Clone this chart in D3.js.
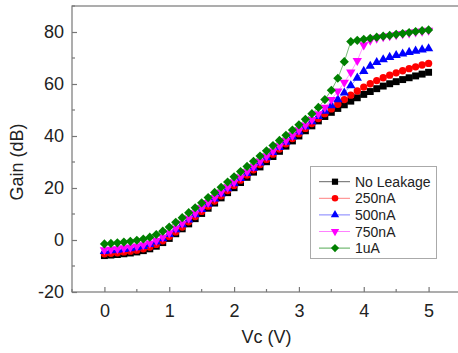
<!DOCTYPE html>
<html>
<head>
<meta charset="utf-8">
<script src="https://cdn.jsdelivr.net/npm/d3@7"></script>
<style>
  body { margin: 0; background: #fff; }
  svg { display: block; font-family: Arial, "Liberation Sans", sans-serif; }
</style>
</head>
<body>
<div id="chart"></div>
<script>
// Vc sweep (V)
const vc = [0.0, 0.1, 0.2, 0.3, 0.4, 0.5, 0.6, 0.7, 0.8, 0.9,
  1.0, 1.1, 1.2, 1.3, 1.4, 1.5, 1.6, 1.7, 1.8, 1.9,
  2.0, 2.1, 2.2, 2.3, 2.4, 2.5, 2.6, 2.7, 2.8, 2.9,
  3.0, 3.1, 3.2, 3.3, 3.4, 3.5, 3.6, 3.7, 3.8, 3.9,
  4.0, 4.1, 4.2, 4.3, 4.4, 4.5, 4.6, 4.7, 4.8, 4.9, 5.0];

// Gain (dB) per leakage current
const noLeakage = [-6.0, -5.8, -5.6, -5.3, -5.0, -4.6, -4.1, -3.4, -2.4, -1.0,
  0.6, 2.4, 4.3, 6.2, 8.2, 10.2, 12.2, 14.2, 16.2, 18.2,
  20.1, 22.1, 24.1, 26.1, 28.1, 30.1, 32.1, 34.1, 36.1, 38.1,
  40.0, 42.0, 43.9, 45.8, 47.5, 49.1, 50.6, 52.0, 53.4, 54.7,
  56.0, 57.1, 58.2, 59.2, 60.1, 60.9, 61.7, 62.4, 63.1, 63.8, 64.5];
const leak250nA = [-5.3, -5.1, -4.9, -4.6, -4.3, -3.9, -3.4, -2.7, -1.7, -0.3,
  1.3, 3.1, 5.0, 7.0, 9.0, 11.0, 13.0, 15.0, 17.0, 19.0,
  21.0, 23.0, 25.0, 27.0, 29.0, 31.0, 33.0, 35.0, 37.0, 39.0,
  40.9, 42.9, 44.8, 46.7, 48.6, 50.4, 52.2, 54.0, 55.7, 57.3,
  58.8, 60.1, 61.3, 62.4, 63.4, 64.3, 65.1, 65.9, 66.6, 67.3, 67.9];
const leak500nA = [-4.3, -4.1, -3.9, -3.6, -3.3, -2.9, -2.4, -1.7, -0.7, 0.6,
  2.2, 4.0, 5.9, 7.8, 9.8, 11.8, 13.8, 15.8, 17.8, 19.8,
  21.7, 23.7, 25.7, 27.7, 29.7, 31.7, 33.7, 35.7, 37.7, 39.7,
  41.6, 43.6, 45.6, 47.6, 49.6, 51.7, 54.0, 56.6, 59.4, 62.3,
  64.9, 66.9, 68.3, 69.4, 70.3, 71.0, 71.6, 72.2, 72.7, 73.2, 73.6];
const leak750nA = [-3.8, -3.6, -3.4, -3.1, -2.8, -2.4, -1.9, -1.2, -0.2, 1.1,
  2.7, 4.5, 6.4, 8.3, 10.3, 12.3, 14.3, 16.3, 18.3, 20.3,
  22.2, 24.2, 26.2, 28.2, 30.2, 32.2, 34.2, 36.2, 38.2, 40.2,
  42.2, 44.2, 46.3, 48.5, 51.0, 54.0, 57.2, 60.6, 64.5, 69.0,
  75.0, 76.8, 77.6, 78.1, 78.5, 78.9, 79.3, 79.6, 80.0, 80.3, 80.6];
const leak1uA = [-1.5, -1.3, -1.1, -0.8, -0.5, -0.1, 0.4, 1.1, 2.1, 3.4,
  5.0, 6.8, 8.6, 10.5, 12.4, 14.3, 16.3, 18.3, 20.3, 22.3,
  24.3, 26.3, 28.3, 30.3, 32.3, 34.3, 36.3, 38.3, 40.3, 42.3,
  44.3, 46.4, 48.6, 51.0, 54.0, 57.6, 62.2, 68.6, 76.3, 76.8,
  77.2, 77.6, 78.0, 78.4, 78.7, 79.1, 79.4, 79.8, 80.2, 80.5, 80.8];

const seriesNames = ["No Leakage", "250nA", "500nA", "750nA", "1uA"];
const seriesValues = [noLeakage, leak250nA, leak500nA, leak750nA, leak1uA];

const xTicks = [0, 1, 2, 3, 4, 5];
const yTicks = [-20, 0, 20, 40, 60, 80];

const width = 458, height = 353;
const plotLeft = 72, plotRight = 461, plotTop = 6, plotBottom = 292;

const markerColor = ["#000000", "#ff0000", "#0000ff", "#ff00ff", "#008000"];
const lineColor = ["#666666", "#ff8080", "#8080ff", "#ff80ff", "#55aa55"];
const shapes = [
  { type: d3.symbolSquare, size: 48, rot: 0 },
  { type: d3.symbolCircle, size: 42, rot: 0 },
  { type: d3.symbolTriangle, size: 38, rot: 0 },
  { type: d3.symbolTriangle, size: 38, rot: 180 },
  { type: d3.symbolSquare, size: 42, rot: 45 }
];

const svg = d3.select("#chart").append("svg")
  .attr("width", width)
  .attr("height", height);

const x = d3.scaleLinear().domain([-0.5, 5.5]).range([plotLeft, plotRight]);
const y = d3.scaleLinear().domain([-20, 90]).range([plotBottom, plotTop]);

const axisColor = "#777";
const plainNum = d => String(d);

// frame
svg.append("rect")
  .attr("x", plotLeft).attr("y", plotTop)
  .attr("width", plotRight - plotLeft).attr("height", plotBottom - plotTop)
  .attr("fill", "none")
  .attr("stroke", axisColor)
  .attr("stroke-width", 1.2);

// bottom axis
const xAxis = svg.append("g")
  .attr("transform", `translate(0,${plotBottom})`)
  .call(d3.axisBottom(x).tickValues(xTicks).tickSizeInner(-5).tickSizeOuter(0).tickPadding(12).tickFormat(plainNum));
xAxis.select(".domain").remove();
xAxis.selectAll("line").attr("stroke", axisColor).attr("stroke-width", 1.2);
xAxis.selectAll("text").attr("font-size", 18).attr("fill", "#222").attr("font-family", null);

svg.append("g").selectAll("line")
  .data(d3.range(-0.5, 5.6, 1))
  .join("line")
  .attr("x1", d => x(d)).attr("x2", d => x(d))
  .attr("y1", plotBottom).attr("y2", plotBottom - 3)
  .attr("stroke", axisColor).attr("stroke-width", 1.2);

// left axis
const yAxis = svg.append("g")
  .attr("transform", `translate(${plotLeft},0)`)
  .call(d3.axisLeft(y).tickValues(yTicks).tickSizeInner(-5).tickSizeOuter(0).tickPadding(8).tickFormat(plainNum));
yAxis.select(".domain").remove();
yAxis.selectAll("line").attr("stroke", axisColor).attr("stroke-width", 1.2);
yAxis.selectAll("text").attr("font-size", 18).attr("fill", "#222").attr("font-family", null);

svg.append("g").selectAll("line")
  .data(d3.range(-10, 91, 20))
  .join("line")
  .attr("x1", plotLeft).attr("x2", plotLeft + 3)
  .attr("y1", d => y(d)).attr("y2", d => y(d))
  .attr("stroke", axisColor).attr("stroke-width", 1.2);

// axis titles
svg.append("text")
  .attr("x", x(2.5)).attr("y", 343)
  .attr("text-anchor", "middle")
  .attr("font-size", 18).attr("fill", "#222")
  .text("Vc (V)");

svg.append("text")
  .attr("transform", `translate(23,${y(30)}) rotate(-90)`)
  .attr("text-anchor", "middle")
  .attr("font-size", 18).attr("fill", "#222")
  .text("Gain (dB)");

// series
const line = d3.line().x((d, i) => x(vc[i])).y(d => y(d));
const plot = svg.append("g");

seriesValues.forEach((vals, k) => {
  plot.append("path")
    .attr("d", line(vals))
    .attr("fill", "none")
    .attr("stroke", lineColor[k])
    .attr("stroke-width", 0.8);
});

seriesValues.forEach((vals, k) => {
  const sym = d3.symbol().type(shapes[k].type).size(shapes[k].size);
  plot.append("g").selectAll("path")
    .data(vals)
    .join("path")
    .attr("d", sym)
    .attr("transform", (d, i) => `translate(${x(vc[i])},${y(d)}) rotate(${shapes[k].rot})`)
    .attr("fill", markerColor[k]);
});

// legend
const lg = svg.append("g");
lg.append("rect")
  .attr("x", 310.5).attr("y", 166.5)
  .attr("width", 126).attr("height", 92)
  .attr("fill", "#fff")
  .attr("stroke", "#aaa");

seriesNames.forEach((name, k) => {
  const ry = 181.7 + k * 16.6;
  lg.append("line")
    .attr("x1", 319).attr("x2", 350)
    .attr("y1", ry).attr("y2", ry)
    .attr("stroke", lineColor[k]).attr("stroke-width", 1);
  lg.append("path")
    .attr("d", d3.symbol().type(shapes[k].type).size(shapes[k].size * 0.8)())
    .attr("transform", `translate(335,${ry}) rotate(${shapes[k].rot})`)
    .attr("fill", markerColor[k]);
  lg.append("text")
    .attr("x", 355).attr("y", ry)
    .attr("dy", "0.36em")
    .attr("font-size", 14).attr("fill", "#222")
    .text(name);
});
</script>
</body>
</html>
